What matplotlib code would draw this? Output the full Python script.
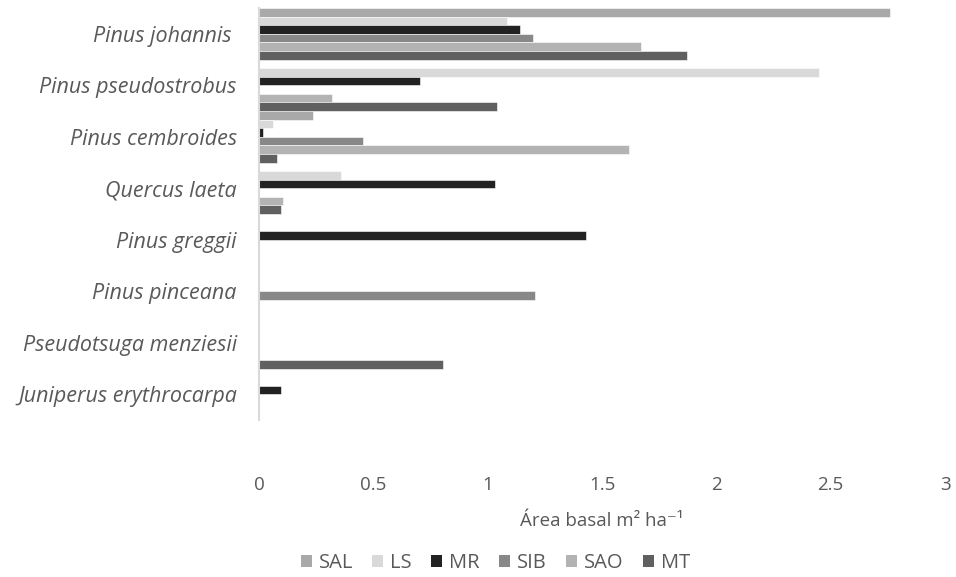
import numpy as np
import matplotlib.pyplot as plt
from matplotlib.patches import Patch

plt.rcParams['font.family'] = ['Open Sans', 'DejaVu Sans']

species = ['Pinus johannis ', 'Pinus pseudostrobus', 'Pinus cembroides', 'Quercus laeta',
           'Pinus greggii', 'Pinus pinceana', 'Pseudotsuga menziesii', 'Juniperus erythrocarpa']
series = ['SAL', 'LS', 'MR', 'SIB', 'SAO', 'MT']

SAL = [2.76, 0, 0.235, 0, 0, 0, 0, 0]
LS = [1.085, 2.45, 0.06, 0.36, 0, 0, 0, 0]
MR = [1.14, 0.705, 0.015, 1.03, 1.43, 0, 0, 0.097]
SIB = [1.2, 0, 0.455, 0, 0, 1.205, 0, 0]
SAO = [1.67, 0.32, 1.62, 0.105, 0, 0, 0, 0]
MT = [1.87, 1.04, 0.077, 0.097, 0, 0, 0.806, 0]

values = [SAL, LS, MR, SIB, SAO, MT]
colores = ['#a9a9a9', '#d9d9d9', '#222222', '#888888', '#b3b3b3', '#606060']
gris = '#595959'

fig = plt.figure(figsize=(9.56, 5.77), dpi=100)
ax = fig.add_axes([0.271, 0.272, 0.7175, 0.714])

y = np.arange(len(species))
h = 1 / len(series)
for j, (vals, c) in enumerate(zip(values, colores)):
    ax.barh(y - 0.5 + (j + 0.5) * h, vals, height=h, color=c,
            edgecolor='white', linewidth=0.4)

ax.set_ylim(len(species) - 0.5, -0.5)
ax.set_xlim(0, 3)
ax.set_xticks([0, 0.5, 1, 1.5, 2, 2.5, 3])
ax.set_xticklabels(['0', '0.5', '1', '1.5', '2', '2.5', '3'])
ax.set_yticks(y)
ax.set_yticklabels(species, fontstyle='italic')

for s in ['top', 'right', 'bottom']:
    ax.spines[s].set_visible(False)
ax.spines['left'].set_color('#d9d9d9')
ax.spines['left'].set_linewidth(1.5)

ax.tick_params(axis='x', length=0, pad=40, labelsize=13.5, colors=gris)
ax.tick_params(axis='y', length=0, pad=16, labelsize=15.5, colors=gris)

ax.set_xlabel('Área basal m² ha⁻¹', fontsize=13.5, color=gris, labelpad=13)

handles = [Patch(facecolor=c, label=s) for s, c in zip(series, colores)]
fig.legend(handles=handles, loc='center', bbox_to_anchor=(0.518, 0.024), ncol=6,
           frameon=False, fontsize=14.5, labelcolor=gris, handlelength=0.55,
           handleheight=0.55, handletextpad=0.35, columnspacing=0.95)

fig.savefig('out.png', dpi=100)
